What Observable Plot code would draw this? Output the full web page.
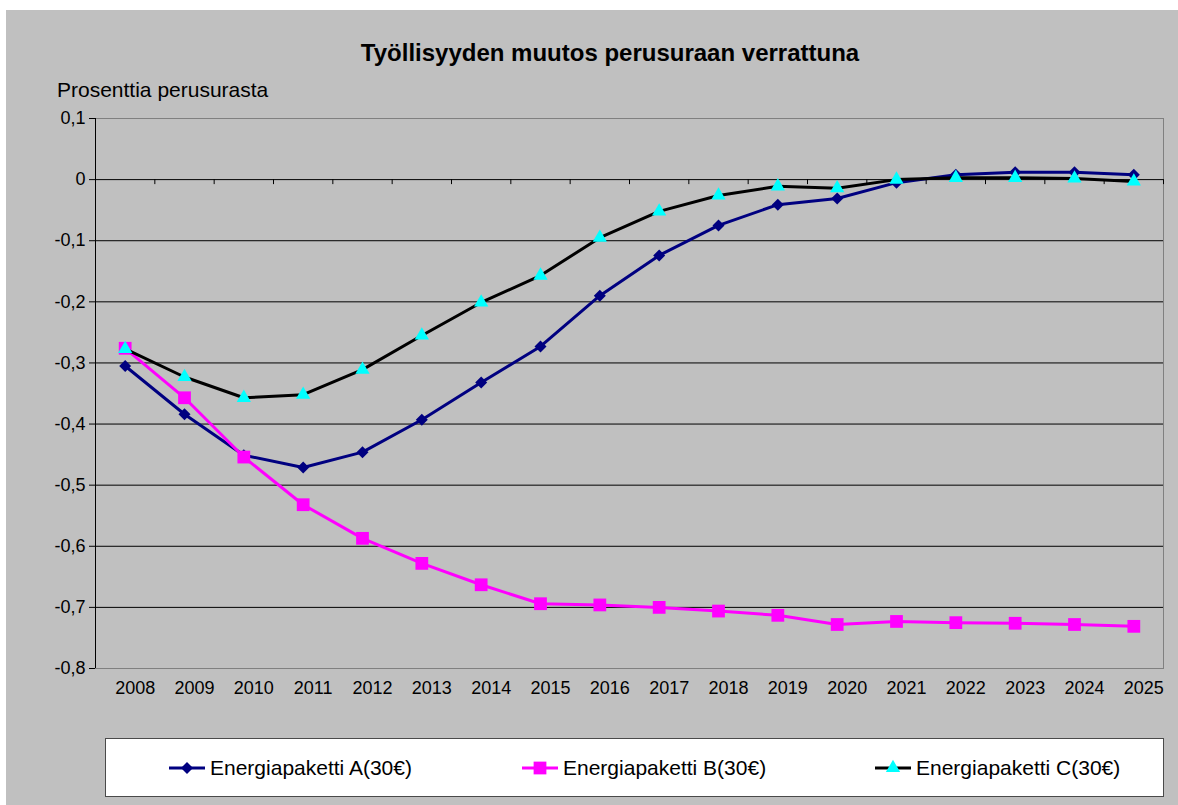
<!DOCTYPE html>
<html><head><meta charset="utf-8">
<script src="https://cdn.jsdelivr.net/npm/d3@7"></script>
<script src="https://cdn.jsdelivr.net/npm/@observablehq/plot@0.6"></script>
<style>
body{margin:0;background:#fff;}
#wrap{position:relative;width:1178px;height:805px;overflow:hidden;font-family:Arial,"Liberation Sans",sans-serif;color:#000;}
#bg{position:absolute;left:6px;top:10px;right:0;bottom:0;background:#c0c0c0;}
#chart{position:absolute;left:0;top:0;}
#title{position:absolute;left:610px;top:41.4px;transform:translateX(-50%);font-size:24px;line-height:24px;font-weight:bold;white-space:nowrap;}
#ylabel{position:absolute;left:57px;top:79px;font-size:21px;line-height:21px;white-space:nowrap;}
#legend{position:absolute;left:105px;top:738px;width:1057px;height:57px;border:1px solid #4a4a4a;background:#fff;}
#legend .sw{position:absolute;top:19px;}
#legend .lt{position:absolute;top:18.2px;font-size:21px;line-height:21px;white-space:nowrap;}
</style></head>
<body>
<div id="wrap">
  <div id="bg"></div>
  <div id="chart"></div>
  <div id="title">Työllisyyden muutos perusuraan verrattuna</div>
  <div id="ylabel">Prosenttia perusurasta</div>
  <div id="legend"></div>
</div>
<script>
const years = [2008,2009,2010,2011,2012,2013,2014,2015,2016,2017,2018,2019,2020,2021,2022,2023,2024,2025];
const seriesA = [-0.305,-0.384,-0.451,-0.471,-0.446,-0.393,-0.332,-0.273,-0.190,-0.124,-0.075,-0.041,-0.031,-0.005,0.008,0.012,0.012,0.008];
const seriesB = [-0.276,-0.357,-0.454,-0.532,-0.587,-0.628,-0.663,-0.694,-0.696,-0.700,-0.706,-0.713,-0.728,-0.723,-0.725,-0.726,-0.728,-0.731];
const seriesC = [-0.277,-0.323,-0.357,-0.352,-0.311,-0.255,-0.201,-0.157,-0.095,-0.052,-0.026,-0.011,-0.014,0.000,0.003,0.003,0.002,-0.003];
const seriesNames = ["Energiapaketti A(30€)","Energiapaketti B(30€)","Energiapaketti C(30€)"];
const lineColors = ["#000080","#FF00FF","#000000"];
const markerColors = ["#000080","#FF00FF","#00FFFF"];
const markerSymbols = ["diamond2","square","triangle"];
const markerRadius = [5.4,7.2,5.3];
const yTicks = [0.1,0,-0.1,-0.2,-0.3,-0.4,-0.5,-0.6,-0.7,-0.8];

const allSeries = [seriesA, seriesB, seriesC];
const rows = allSeries.map((s, i) => years.map((yr, j) => ({year: yr, value: s[j], series: seriesNames[i]})));
const boundaries = years.map(y => y - 0.5).concat([years[years.length - 1] + 0.5]);
const gridTicks = yTicks.filter(t => t < yTicks[0] && t > yTicks[yTicks.length - 1]);
const fmt = d => String(d).replace(".", ",");

const seriesMarks = rows.flatMap((data, i) => [
  Plot.line(data, {x: "year", y: "value", stroke: lineColors[i], strokeWidth: 3}),
  Plot.dot(data, {x: "year", y: "value", symbol: () => markerSymbols[i], fill: markerColors[i], stroke: "none", r: markerRadius[i]})
]);

const chart = Plot.plot({
  width: 1178,
  height: 720,
  marginTop: 118,
  marginBottom: 52,
  marginLeft: 95,
  marginRight: 15,
  style: {background: "transparent", fontFamily: "Arial, 'Liberation Sans', sans-serif", fontSize: "18px", color: "#000"},
  x: {domain: [boundaries[0], boundaries[boundaries.length - 1]]},
  y: {domain: [yTicks[yTicks.length - 1], yTicks[0]]},
  symbol: {type: "identity"},
  marks: [
    Plot.frame({stroke: "#808080", strokeWidth: 1}),
    Plot.ruleY(gridTicks, {stroke: "#000", strokeWidth: 1}),
    Plot.ruleX([boundaries[0]], {stroke: "#000", strokeWidth: 1}),
    Plot.ruleX(boundaries, {y1: 0, y2: 0, insetBottom: -5, stroke: "#000"}),
    ...seriesMarks,
    Plot.axisY({ticks: yTicks, tickSize: 6, tickPadding: 4, tickFormat: fmt, label: null, fontSize: 18}),
    Plot.axisX({ticks: years, tickSize: 0, tickPadding: 12.5, tickFormat: d => String(d), label: null, dx: 10, fontSize: 18})
  ]
});
document.getElementById("chart").appendChild(chart);

// Legend
const legend = document.getElementById("legend");
const itemLeft = [63, 416, 769];
const symMap = {diamond2: d3.symbolDiamond2, square: d3.symbolSquare, triangle: d3.symbolTriangle};
seriesNames.forEach((name, i) => {
  const sw = d3.create("svg").attr("class", "sw").attr("width", 36).attr("height", 20)
    .style("left", itemLeft[i] + "px");
  sw.append("line").attr("x1", 0).attr("x2", 36).attr("y1", 10).attr("y2", 10)
    .attr("stroke", lineColors[i]).attr("stroke-width", 3);
  sw.append("path").attr("transform", "translate(18,10)")
    .attr("d", d3.symbol(symMap[markerSymbols[i]], Math.PI * markerRadius[i] * markerRadius[i])())
    .attr("fill", markerColors[i]);
  legend.appendChild(sw.node());
  const t = document.createElement("span");
  t.className = "lt";
  t.style.left = (itemLeft[i] + 41) + "px";
  t.textContent = name;
  legend.appendChild(t);
});
</script>
</body></html>
